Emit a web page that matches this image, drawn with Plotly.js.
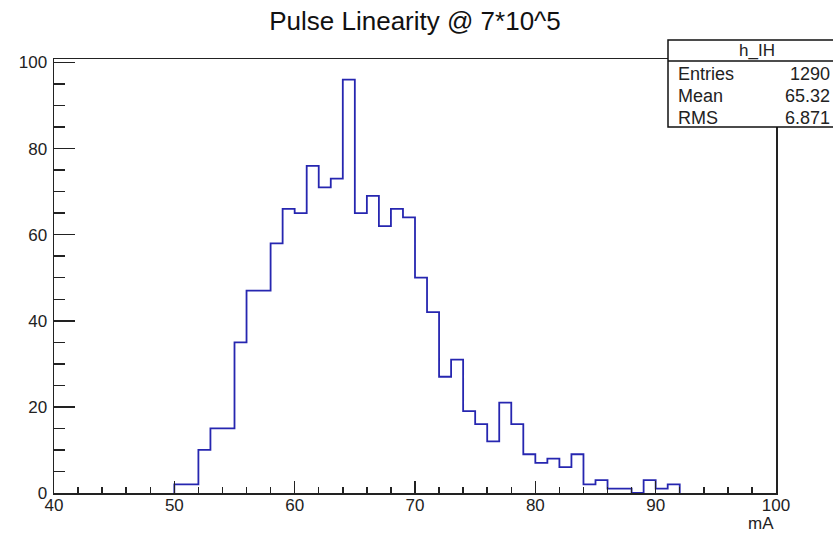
<!DOCTYPE html>
<html>
<head>
<meta charset="utf-8">
<script src="https://cdn.plot.ly/plotly-3.0.1.min.js"></script>
<style>
  html, body { margin: 0; padding: 0; background: #fff; }
  #chart { width: 833px; height: 533px; }
</style>
</head>
<body>
<div id="chart"></div>
<script>
// ---- data ----
const binLowEdges = [50,51,52,53,54,55,56,57,58,59,60,61,62,63,64,65,66,67,68,69,70,
                     71,72,73,74,75,76,77,78,79,80,81,82,83,84,85,86,87,88,89,90,91];
const binCounts   = [2,2,10,15,15,35,47,47,58,66,65,76,71,73,96,65,69,62,66,64,50,
                     42,27,31,19,16,12,21,16,9,7,8,6,9,2,3,1,1,0,3,1,2];
const binWidth = 1;
const titleText = "Pulse Linearity @ 7*10^5";
const xTitle = "mA";
const statsName = "h_IH";
const statsLabels = ["Entries", "Mean", "RMS"];
const statsValues = ["1290", "65.32", "6.871"];
const xRange = [40, 100];
const yRange = [0, 100.8];

// ---- build step outline (ROOT style histogram) ----
const lastEdge = binLowEdges[binLowEdges.length - 1] + binWidth;
const stepX = [binLowEdges[0]].concat(binLowEdges, [lastEdge, lastEdge]);
const stepY = [0].concat(binCounts, [binCounts[binCounts.length - 1], 0]);

// ---- geometry helpers (pixels -> paper) ----
const W = 833, H = 533;
const M = { l: 54, r: 57, t: 59, b: 40 };
const PW = W - M.l - M.r, PH = H - M.t - M.b;
const px = p => (p - M.l) / PW;
const py = p => (H - M.b - p) / PH;

const FONT = "Liberation Sans, Arial, sans-serif";
const ink = "#222";

const trace = {
  type: "scatter",
  mode: "lines",
  x: stepX,
  y: stepY,
  line: { shape: "hv", color: "#2626b0", width: 1.8 },
  hoverinfo: "skip",
  showlegend: false
};

const annotations = [
  { text: xTitle, xref: "paper", yref: "paper", x: 1, y: py(523.5),
    xanchor: "right", yanchor: "middle", showarrow: false,
    font: { family: FONT, size: 17, color: ink } },
  { text: statsName, xref: "paper", yref: "paper", x: px(757), y: py(50.5),
    xanchor: "center", yanchor: "middle", showarrow: false,
    font: { family: FONT, size: 17, color: ink } }
];
const rowY = [73.5, 95.5, 117.5];
statsLabels.forEach((lab, i) => {
  annotations.push({ text: lab, xref: "paper", yref: "paper", x: px(676), y: py(rowY[i]),
    xanchor: "left", yanchor: "middle", showarrow: false,
    font: { family: FONT, size: 18, color: ink } });
  annotations.push({ text: statsValues[i], xref: "paper", yref: "paper", x: px(832), y: py(rowY[i]),
    xanchor: "right", yanchor: "middle", showarrow: false,
    font: { family: FONT, size: 18, color: ink } });
});

const layout = {
  width: W, height: H,
  margin: M,
  paper_bgcolor: "#fff",
  plot_bgcolor: "#fff",
  showlegend: false,
  hovermode: false,
  title: {
    text: titleText,
    xref: "paper", x: 0.5, xanchor: "center",
    yref: "container", y: 1 - 21 / H, yanchor: "middle",
    font: { family: FONT, size: 26, color: "#111" }
  },
  xaxis: {
    range: xRange,
    showgrid: false, zeroline: false,
    showline: true, linecolor: ink, linewidth: 1.5, mirror: true,
    ticks: "inside", ticklen: 12, tickwidth: 1.5, tickcolor: ink,
    dtick: 10, tick0: 0,
    minor: { dtick: 2, ticks: "inside", ticklen: 6, tickwidth: 1.5, tickcolor: ink, showgrid: false },
    tickfont: { family: FONT, size: 17, color: ink },
    ticklabelstandoff: -4,
    fixedrange: true
  },
  yaxis: {
    range: yRange,
    showgrid: false, zeroline: false,
    showline: true, linecolor: ink, linewidth: 1.5, mirror: true,
    ticks: "inside", ticklen: 21, tickwidth: 1.5, tickcolor: ink,
    dtick: 20, tick0: 0,
    minor: { dtick: 5, ticks: "inside", ticklen: 11, tickwidth: 1.5, tickcolor: ink, showgrid: false },
    tickfont: { family: FONT, size: 17, color: ink },
    ticklabelstandoff: 2,
    fixedrange: true
  },
  shapes: [
    { type: "rect", xref: "paper", yref: "paper", layer: "above",
      x0: px(668), x1: px(860), y0: py(127), y1: py(40),
      fillcolor: "#fff", line: { color: "#111", width: 1.5 } },
    { type: "line", xref: "paper", yref: "paper", layer: "above",
      x0: px(668), x1: px(860), y0: py(61), y1: py(61),
      line: { color: "#111", width: 1.5 } }
  ],
  annotations: annotations
};

Plotly.newPlot("chart", [trace], layout, { displayModeBar: false, staticPlot: true });
</script>
</body>
</html>
